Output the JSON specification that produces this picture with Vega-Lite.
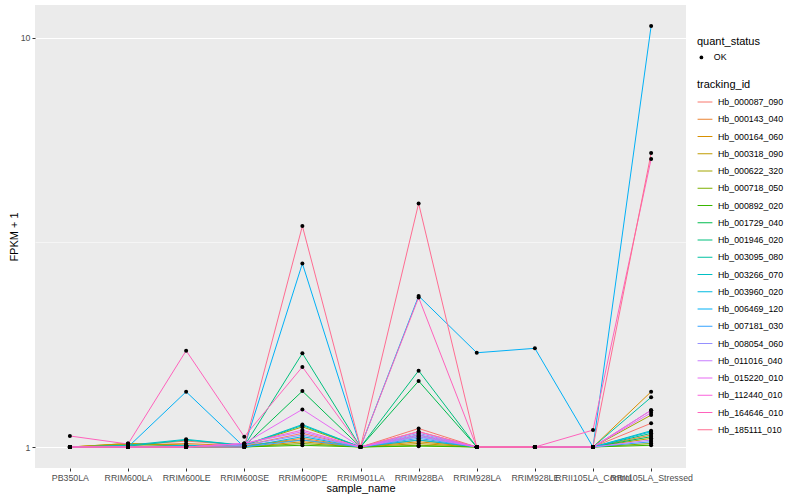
{
  "$schema": "https://vega.github.io/schema/vega-lite/v6.json",
  "width": 651,
  "height": 463,
  "autosize": {"type": "none"},
  "padding": {"left": 35, "top": 5, "right": 114, "bottom": 32},
  "background": "white",
  "config": {
    "view": {"fill": "#EBEBEB", "stroke": null},
    "font": "Liberation Sans",
    "axis": {
      "domain": false,
      "gridColor": "white",
      "gridWidth": 1.07,
      "tickColor": "#333333",
      "tickSize": 3,
      "tickWidth": 1,
      "labelColor": "#4D4D4D",
      "labelFontSize": 8.8,
      "titleFontSize": 11,
      "titleFontWeight": "normal",
      "titleColor": "black",
      "labelPadding": 2
    },
    "legend": {
      "titleFontSize": 11,
      "titleFontWeight": "normal",
      "labelFontSize": 8.8,
      "labelColor": "black",
      "titleColor": "black"
    }
  },
  "data": {"values": [
    {"sample_name":"PB350LA","tracking_id":"Hb_000087_090","fpkm1":1,"quant_status":"OK"},
    {"sample_name":"RRIM600LA","tracking_id":"Hb_000087_090","fpkm1":1.01,"quant_status":"OK"},
    {"sample_name":"RRIM600LE","tracking_id":"Hb_000087_090","fpkm1":1.034,"quant_status":"OK"},
    {"sample_name":"RRIM600SE","tracking_id":"Hb_000087_090","fpkm1":1.01,"quant_status":"OK"},
    {"sample_name":"RRIM600PE","tracking_id":"Hb_000087_090","fpkm1":1.08,"quant_status":"OK"},
    {"sample_name":"RRIM901LA","tracking_id":"Hb_000087_090","fpkm1":1,"quant_status":"OK"},
    {"sample_name":"RRIM928BA","tracking_id":"Hb_000087_090","fpkm1":1.11,"quant_status":"OK"},
    {"sample_name":"RRIM928LA","tracking_id":"Hb_000087_090","fpkm1":1,"quant_status":"OK"},
    {"sample_name":"RRIM928LE","tracking_id":"Hb_000087_090","fpkm1":1,"quant_status":"OK"},
    {"sample_name":"RRII105LA_Control","tracking_id":"Hb_000087_090","fpkm1":1,"quant_status":"OK"},
    {"sample_name":"RRII105LA_Stressed","tracking_id":"Hb_000087_090","fpkm1":1.143,"quant_status":"OK"},

    {"sample_name":"PB350LA","tracking_id":"Hb_000143_040","fpkm1":1,"quant_status":"OK"},
    {"sample_name":"RRIM600LA","tracking_id":"Hb_000143_040","fpkm1":1.01,"quant_status":"OK"},
    {"sample_name":"RRIM600LE","tracking_id":"Hb_000143_040","fpkm1":1.02,"quant_status":"OK"},
    {"sample_name":"RRIM600SE","tracking_id":"Hb_000143_040","fpkm1":1.005,"quant_status":"OK"},
    {"sample_name":"RRIM600PE","tracking_id":"Hb_000143_040","fpkm1":1.05,"quant_status":"OK"},
    {"sample_name":"RRIM901LA","tracking_id":"Hb_000143_040","fpkm1":1,"quant_status":"OK"},
    {"sample_name":"RRIM928BA","tracking_id":"Hb_000143_040","fpkm1":1.09,"quant_status":"OK"},
    {"sample_name":"RRIM928LA","tracking_id":"Hb_000143_040","fpkm1":1,"quant_status":"OK"},
    {"sample_name":"RRIM928LE","tracking_id":"Hb_000143_040","fpkm1":1,"quant_status":"OK"},
    {"sample_name":"RRII105LA_Control","tracking_id":"Hb_000143_040","fpkm1":1,"quant_status":"OK"},
    {"sample_name":"RRII105LA_Stressed","tracking_id":"Hb_000143_040","fpkm1":1.07,"quant_status":"OK"},

    {"sample_name":"PB350LA","tracking_id":"Hb_000164_060","fpkm1":1,"quant_status":"OK"},
    {"sample_name":"RRIM600LA","tracking_id":"Hb_000164_060","fpkm1":1.02,"quant_status":"OK"},
    {"sample_name":"RRIM600LE","tracking_id":"Hb_000164_060","fpkm1":1.01,"quant_status":"OK"},
    {"sample_name":"RRIM600SE","tracking_id":"Hb_000164_060","fpkm1":1,"quant_status":"OK"},
    {"sample_name":"RRIM600PE","tracking_id":"Hb_000164_060","fpkm1":1.03,"quant_status":"OK"},
    {"sample_name":"RRIM901LA","tracking_id":"Hb_000164_060","fpkm1":1,"quant_status":"OK"},
    {"sample_name":"RRIM928BA","tracking_id":"Hb_000164_060","fpkm1":1.03,"quant_status":"OK"},
    {"sample_name":"RRIM928LA","tracking_id":"Hb_000164_060","fpkm1":1,"quant_status":"OK"},
    {"sample_name":"RRIM928LE","tracking_id":"Hb_000164_060","fpkm1":1,"quant_status":"OK"},
    {"sample_name":"RRII105LA_Control","tracking_id":"Hb_000164_060","fpkm1":1,"quant_status":"OK"},
    {"sample_name":"RRII105LA_Stressed","tracking_id":"Hb_000164_060","fpkm1":1.365,"quant_status":"OK"},

    {"sample_name":"PB350LA","tracking_id":"Hb_000318_090","fpkm1":1,"quant_status":"OK"},
    {"sample_name":"RRIM600LA","tracking_id":"Hb_000318_090","fpkm1":1.02,"quant_status":"OK"},
    {"sample_name":"RRIM600LE","tracking_id":"Hb_000318_090","fpkm1":1.01,"quant_status":"OK"},
    {"sample_name":"RRIM600SE","tracking_id":"Hb_000318_090","fpkm1":1.01,"quant_status":"OK"},
    {"sample_name":"RRIM600PE","tracking_id":"Hb_000318_090","fpkm1":1.04,"quant_status":"OK"},
    {"sample_name":"RRIM901LA","tracking_id":"Hb_000318_090","fpkm1":1,"quant_status":"OK"},
    {"sample_name":"RRIM928BA","tracking_id":"Hb_000318_090","fpkm1":1.02,"quant_status":"OK"},
    {"sample_name":"RRIM928LA","tracking_id":"Hb_000318_090","fpkm1":1,"quant_status":"OK"},
    {"sample_name":"RRIM928LE","tracking_id":"Hb_000318_090","fpkm1":1,"quant_status":"OK"},
    {"sample_name":"RRII105LA_Control","tracking_id":"Hb_000318_090","fpkm1":1,"quant_status":"OK"},
    {"sample_name":"RRII105LA_Stressed","tracking_id":"Hb_000318_090","fpkm1":1.05,"quant_status":"OK"},

    {"sample_name":"PB350LA","tracking_id":"Hb_000622_320","fpkm1":1,"quant_status":"OK"},
    {"sample_name":"RRIM600LA","tracking_id":"Hb_000622_320","fpkm1":1.015,"quant_status":"OK"},
    {"sample_name":"RRIM600LE","tracking_id":"Hb_000622_320","fpkm1":1.005,"quant_status":"OK"},
    {"sample_name":"RRIM600SE","tracking_id":"Hb_000622_320","fpkm1":1.01,"quant_status":"OK"},
    {"sample_name":"RRIM600PE","tracking_id":"Hb_000622_320","fpkm1":1.12,"quant_status":"OK"},
    {"sample_name":"RRIM901LA","tracking_id":"Hb_000622_320","fpkm1":1,"quant_status":"OK"},
    {"sample_name":"RRIM928BA","tracking_id":"Hb_000622_320","fpkm1":1.04,"quant_status":"OK"},
    {"sample_name":"RRIM928LA","tracking_id":"Hb_000622_320","fpkm1":1,"quant_status":"OK"},
    {"sample_name":"RRIM928LE","tracking_id":"Hb_000622_320","fpkm1":1,"quant_status":"OK"},
    {"sample_name":"RRII105LA_Control","tracking_id":"Hb_000622_320","fpkm1":1,"quant_status":"OK"},
    {"sample_name":"RRII105LA_Stressed","tracking_id":"Hb_000622_320","fpkm1":1.197,"quant_status":"OK"},

    {"sample_name":"PB350LA","tracking_id":"Hb_000718_050","fpkm1":1,"quant_status":"OK"},
    {"sample_name":"RRIM600LA","tracking_id":"Hb_000718_050","fpkm1":1.005,"quant_status":"OK"},
    {"sample_name":"RRIM600LE","tracking_id":"Hb_000718_050","fpkm1":1,"quant_status":"OK"},
    {"sample_name":"RRIM600SE","tracking_id":"Hb_000718_050","fpkm1":1,"quant_status":"OK"},
    {"sample_name":"RRIM600PE","tracking_id":"Hb_000718_050","fpkm1":1.02,"quant_status":"OK"},
    {"sample_name":"RRIM901LA","tracking_id":"Hb_000718_050","fpkm1":1,"quant_status":"OK"},
    {"sample_name":"RRIM928BA","tracking_id":"Hb_000718_050","fpkm1":1.01,"quant_status":"OK"},
    {"sample_name":"RRIM928LA","tracking_id":"Hb_000718_050","fpkm1":1,"quant_status":"OK"},
    {"sample_name":"RRIM928LE","tracking_id":"Hb_000718_050","fpkm1":1,"quant_status":"OK"},
    {"sample_name":"RRII105LA_Control","tracking_id":"Hb_000718_050","fpkm1":1,"quant_status":"OK"},
    {"sample_name":"RRII105LA_Stressed","tracking_id":"Hb_000718_050","fpkm1":1.02,"quant_status":"OK"},

    {"sample_name":"PB350LA","tracking_id":"Hb_000892_020","fpkm1":1,"quant_status":"OK"},
    {"sample_name":"RRIM600LA","tracking_id":"Hb_000892_020","fpkm1":1,"quant_status":"OK"},
    {"sample_name":"RRIM600LE","tracking_id":"Hb_000892_020","fpkm1":1,"quant_status":"OK"},
    {"sample_name":"RRIM600SE","tracking_id":"Hb_000892_020","fpkm1":1,"quant_status":"OK"},
    {"sample_name":"RRIM600PE","tracking_id":"Hb_000892_020","fpkm1":1.01,"quant_status":"OK"},
    {"sample_name":"RRIM901LA","tracking_id":"Hb_000892_020","fpkm1":1,"quant_status":"OK"},
    {"sample_name":"RRIM928BA","tracking_id":"Hb_000892_020","fpkm1":1.005,"quant_status":"OK"},
    {"sample_name":"RRIM928LA","tracking_id":"Hb_000892_020","fpkm1":1,"quant_status":"OK"},
    {"sample_name":"RRIM928LE","tracking_id":"Hb_000892_020","fpkm1":1,"quant_status":"OK"},
    {"sample_name":"RRII105LA_Control","tracking_id":"Hb_000892_020","fpkm1":1,"quant_status":"OK"},
    {"sample_name":"RRII105LA_Stressed","tracking_id":"Hb_000892_020","fpkm1":1.01,"quant_status":"OK"},

    {"sample_name":"PB350LA","tracking_id":"Hb_001729_040","fpkm1":1,"quant_status":"OK"},
    {"sample_name":"RRIM600LA","tracking_id":"Hb_001729_040","fpkm1":1,"quant_status":"OK"},
    {"sample_name":"RRIM600LE","tracking_id":"Hb_001729_040","fpkm1":1,"quant_status":"OK"},
    {"sample_name":"RRIM600SE","tracking_id":"Hb_001729_040","fpkm1":1.005,"quant_status":"OK"},
    {"sample_name":"RRIM600PE","tracking_id":"Hb_001729_040","fpkm1":1.37,"quant_status":"OK"},
    {"sample_name":"RRIM901LA","tracking_id":"Hb_001729_040","fpkm1":1,"quant_status":"OK"},
    {"sample_name":"RRIM928BA","tracking_id":"Hb_001729_040","fpkm1":1.45,"quant_status":"OK"},
    {"sample_name":"RRIM928LA","tracking_id":"Hb_001729_040","fpkm1":1,"quant_status":"OK"},
    {"sample_name":"RRIM928LE","tracking_id":"Hb_001729_040","fpkm1":1,"quant_status":"OK"},
    {"sample_name":"RRII105LA_Control","tracking_id":"Hb_001729_040","fpkm1":1,"quant_status":"OK"},
    {"sample_name":"RRII105LA_Stressed","tracking_id":"Hb_001729_040","fpkm1":1.06,"quant_status":"OK"},

    {"sample_name":"PB350LA","tracking_id":"Hb_001946_020","fpkm1":1,"quant_status":"OK"},
    {"sample_name":"RRIM600LA","tracking_id":"Hb_001946_020","fpkm1":1,"quant_status":"OK"},
    {"sample_name":"RRIM600LE","tracking_id":"Hb_001946_020","fpkm1":1.005,"quant_status":"OK"},
    {"sample_name":"RRIM600SE","tracking_id":"Hb_001946_020","fpkm1":1.005,"quant_status":"OK"},
    {"sample_name":"RRIM600PE","tracking_id":"Hb_001946_020","fpkm1":1.695,"quant_status":"OK"},
    {"sample_name":"RRIM901LA","tracking_id":"Hb_001946_020","fpkm1":1,"quant_status":"OK"},
    {"sample_name":"RRIM928BA","tracking_id":"Hb_001946_020","fpkm1":1.537,"quant_status":"OK"},
    {"sample_name":"RRIM928LA","tracking_id":"Hb_001946_020","fpkm1":1,"quant_status":"OK"},
    {"sample_name":"RRIM928LE","tracking_id":"Hb_001946_020","fpkm1":1,"quant_status":"OK"},
    {"sample_name":"RRII105LA_Control","tracking_id":"Hb_001946_020","fpkm1":1,"quant_status":"OK"},
    {"sample_name":"RRII105LA_Stressed","tracking_id":"Hb_001946_020","fpkm1":1.08,"quant_status":"OK"},

    {"sample_name":"PB350LA","tracking_id":"Hb_003095_080","fpkm1":1,"quant_status":"OK"},
    {"sample_name":"RRIM600LA","tracking_id":"Hb_003095_080","fpkm1":1.005,"quant_status":"OK"},
    {"sample_name":"RRIM600LE","tracking_id":"Hb_003095_080","fpkm1":1.04,"quant_status":"OK"},
    {"sample_name":"RRIM600SE","tracking_id":"Hb_003095_080","fpkm1":1.01,"quant_status":"OK"},
    {"sample_name":"RRIM600PE","tracking_id":"Hb_003095_080","fpkm1":1.129,"quant_status":"OK"},
    {"sample_name":"RRIM901LA","tracking_id":"Hb_003095_080","fpkm1":1,"quant_status":"OK"},
    {"sample_name":"RRIM928BA","tracking_id":"Hb_003095_080","fpkm1":1.07,"quant_status":"OK"},
    {"sample_name":"RRIM928LA","tracking_id":"Hb_003095_080","fpkm1":1,"quant_status":"OK"},
    {"sample_name":"RRIM928LE","tracking_id":"Hb_003095_080","fpkm1":1,"quant_status":"OK"},
    {"sample_name":"RRII105LA_Control","tracking_id":"Hb_003095_080","fpkm1":1,"quant_status":"OK"},
    {"sample_name":"RRII105LA_Stressed","tracking_id":"Hb_003095_080","fpkm1":1.323,"quant_status":"OK"},

    {"sample_name":"PB350LA","tracking_id":"Hb_003266_070","fpkm1":1,"quant_status":"OK"},
    {"sample_name":"RRIM600LA","tracking_id":"Hb_003266_070","fpkm1":1.01,"quant_status":"OK"},
    {"sample_name":"RRIM600LE","tracking_id":"Hb_003266_070","fpkm1":1.044,"quant_status":"OK"},
    {"sample_name":"RRIM600SE","tracking_id":"Hb_003266_070","fpkm1":1.01,"quant_status":"OK"},
    {"sample_name":"RRIM600PE","tracking_id":"Hb_003266_070","fpkm1":1.135,"quant_status":"OK"},
    {"sample_name":"RRIM901LA","tracking_id":"Hb_003266_070","fpkm1":1,"quant_status":"OK"},
    {"sample_name":"RRIM928BA","tracking_id":"Hb_003266_070","fpkm1":1.06,"quant_status":"OK"},
    {"sample_name":"RRIM928LA","tracking_id":"Hb_003266_070","fpkm1":1,"quant_status":"OK"},
    {"sample_name":"RRIM928LE","tracking_id":"Hb_003266_070","fpkm1":1,"quant_status":"OK"},
    {"sample_name":"RRII105LA_Control","tracking_id":"Hb_003266_070","fpkm1":1,"quant_status":"OK"},
    {"sample_name":"RRII105LA_Stressed","tracking_id":"Hb_003266_070","fpkm1":1.096,"quant_status":"OK"},

    {"sample_name":"PB350LA","tracking_id":"Hb_003960_020","fpkm1":1,"quant_status":"OK"},
    {"sample_name":"RRIM600LA","tracking_id":"Hb_003960_020","fpkm1":1,"quant_status":"OK"},
    {"sample_name":"RRIM600LE","tracking_id":"Hb_003960_020","fpkm1":1.01,"quant_status":"OK"},
    {"sample_name":"RRIM600SE","tracking_id":"Hb_003960_020","fpkm1":1,"quant_status":"OK"},
    {"sample_name":"RRIM600PE","tracking_id":"Hb_003960_020","fpkm1":1.06,"quant_status":"OK"},
    {"sample_name":"RRIM901LA","tracking_id":"Hb_003960_020","fpkm1":1,"quant_status":"OK"},
    {"sample_name":"RRIM928BA","tracking_id":"Hb_003960_020","fpkm1":1.04,"quant_status":"OK"},
    {"sample_name":"RRIM928LA","tracking_id":"Hb_003960_020","fpkm1":1,"quant_status":"OK"},
    {"sample_name":"RRIM928LE","tracking_id":"Hb_003960_020","fpkm1":1,"quant_status":"OK"},
    {"sample_name":"RRII105LA_Control","tracking_id":"Hb_003960_020","fpkm1":1,"quant_status":"OK"},
    {"sample_name":"RRII105LA_Stressed","tracking_id":"Hb_003960_020","fpkm1":1.09,"quant_status":"OK"},

    {"sample_name":"PB350LA","tracking_id":"Hb_006469_120","fpkm1":1,"quant_status":"OK"},
    {"sample_name":"RRIM600LA","tracking_id":"Hb_006469_120","fpkm1":1,"quant_status":"OK"},
    {"sample_name":"RRIM600LE","tracking_id":"Hb_006469_120","fpkm1":1.365,"quant_status":"OK"},
    {"sample_name":"RRIM600SE","tracking_id":"Hb_006469_120","fpkm1":1,"quant_status":"OK"},
    {"sample_name":"RRIM600PE","tracking_id":"Hb_006469_120","fpkm1":2.81,"quant_status":"OK"},
    {"sample_name":"RRIM901LA","tracking_id":"Hb_006469_120","fpkm1":1,"quant_status":"OK"},
    {"sample_name":"RRIM928BA","tracking_id":"Hb_006469_120","fpkm1":2.34,"quant_status":"OK"},
    {"sample_name":"RRIM928LA","tracking_id":"Hb_006469_120","fpkm1":1.7,"quant_status":"OK"},
    {"sample_name":"RRIM928LE","tracking_id":"Hb_006469_120","fpkm1":1.743,"quant_status":"OK"},
    {"sample_name":"RRII105LA_Control","tracking_id":"Hb_006469_120","fpkm1":1,"quant_status":"OK"},
    {"sample_name":"RRII105LA_Stressed","tracking_id":"Hb_006469_120","fpkm1":10.7,"quant_status":"OK"},

    {"sample_name":"PB350LA","tracking_id":"Hb_007181_030","fpkm1":1,"quant_status":"OK"},
    {"sample_name":"RRIM600LA","tracking_id":"Hb_007181_030","fpkm1":1,"quant_status":"OK"},
    {"sample_name":"RRIM600LE","tracking_id":"Hb_007181_030","fpkm1":1,"quant_status":"OK"},
    {"sample_name":"RRIM600SE","tracking_id":"Hb_007181_030","fpkm1":1,"quant_status":"OK"},
    {"sample_name":"RRIM600PE","tracking_id":"Hb_007181_030","fpkm1":1.04,"quant_status":"OK"},
    {"sample_name":"RRIM901LA","tracking_id":"Hb_007181_030","fpkm1":1,"quant_status":"OK"},
    {"sample_name":"RRIM928BA","tracking_id":"Hb_007181_030","fpkm1":1.05,"quant_status":"OK"},
    {"sample_name":"RRIM928LA","tracking_id":"Hb_007181_030","fpkm1":1,"quant_status":"OK"},
    {"sample_name":"RRIM928LE","tracking_id":"Hb_007181_030","fpkm1":1,"quant_status":"OK"},
    {"sample_name":"RRII105LA_Control","tracking_id":"Hb_007181_030","fpkm1":1,"quant_status":"OK"},
    {"sample_name":"RRII105LA_Stressed","tracking_id":"Hb_007181_030","fpkm1":1.03,"quant_status":"OK"},

    {"sample_name":"PB350LA","tracking_id":"Hb_008054_060","fpkm1":1,"quant_status":"OK"},
    {"sample_name":"RRIM600LA","tracking_id":"Hb_008054_060","fpkm1":1,"quant_status":"OK"},
    {"sample_name":"RRIM600LE","tracking_id":"Hb_008054_060","fpkm1":1,"quant_status":"OK"},
    {"sample_name":"RRIM600SE","tracking_id":"Hb_008054_060","fpkm1":1.01,"quant_status":"OK"},
    {"sample_name":"RRIM600PE","tracking_id":"Hb_008054_060","fpkm1":1.07,"quant_status":"OK"},
    {"sample_name":"RRIM901LA","tracking_id":"Hb_008054_060","fpkm1":1,"quant_status":"OK"},
    {"sample_name":"RRIM928BA","tracking_id":"Hb_008054_060","fpkm1":1.08,"quant_status":"OK"},
    {"sample_name":"RRIM928LA","tracking_id":"Hb_008054_060","fpkm1":1,"quant_status":"OK"},
    {"sample_name":"RRIM928LE","tracking_id":"Hb_008054_060","fpkm1":1,"quant_status":"OK"},
    {"sample_name":"RRII105LA_Control","tracking_id":"Hb_008054_060","fpkm1":1,"quant_status":"OK"},
    {"sample_name":"RRII105LA_Stressed","tracking_id":"Hb_008054_060","fpkm1":1.23,"quant_status":"OK"},

    {"sample_name":"PB350LA","tracking_id":"Hb_011016_040","fpkm1":1,"quant_status":"OK"},
    {"sample_name":"RRIM600LA","tracking_id":"Hb_011016_040","fpkm1":1,"quant_status":"OK"},
    {"sample_name":"RRIM600LE","tracking_id":"Hb_011016_040","fpkm1":1,"quant_status":"OK"},
    {"sample_name":"RRIM600SE","tracking_id":"Hb_011016_040","fpkm1":1.02,"quant_status":"OK"},
    {"sample_name":"RRIM600PE","tracking_id":"Hb_011016_040","fpkm1":1.09,"quant_status":"OK"},
    {"sample_name":"RRIM901LA","tracking_id":"Hb_011016_040","fpkm1":1,"quant_status":"OK"},
    {"sample_name":"RRIM928BA","tracking_id":"Hb_011016_040","fpkm1":1.06,"quant_status":"OK"},
    {"sample_name":"RRIM928LA","tracking_id":"Hb_011016_040","fpkm1":1,"quant_status":"OK"},
    {"sample_name":"RRIM928LE","tracking_id":"Hb_011016_040","fpkm1":1,"quant_status":"OK"},
    {"sample_name":"RRII105LA_Control","tracking_id":"Hb_011016_040","fpkm1":1,"quant_status":"OK"},
    {"sample_name":"RRII105LA_Stressed","tracking_id":"Hb_011016_040","fpkm1":1.04,"quant_status":"OK"},

    {"sample_name":"PB350LA","tracking_id":"Hb_015220_010","fpkm1":1,"quant_status":"OK"},
    {"sample_name":"RRIM600LA","tracking_id":"Hb_015220_010","fpkm1":1,"quant_status":"OK"},
    {"sample_name":"RRIM600LE","tracking_id":"Hb_015220_010","fpkm1":1,"quant_status":"OK"},
    {"sample_name":"RRIM600SE","tracking_id":"Hb_015220_010","fpkm1":1.02,"quant_status":"OK"},
    {"sample_name":"RRIM600PE","tracking_id":"Hb_015220_010","fpkm1":1.236,"quant_status":"OK"},
    {"sample_name":"RRIM901LA","tracking_id":"Hb_015220_010","fpkm1":1,"quant_status":"OK"},
    {"sample_name":"RRIM928BA","tracking_id":"Hb_015220_010","fpkm1":1.07,"quant_status":"OK"},
    {"sample_name":"RRIM928LA","tracking_id":"Hb_015220_010","fpkm1":1,"quant_status":"OK"},
    {"sample_name":"RRIM928LE","tracking_id":"Hb_015220_010","fpkm1":1,"quant_status":"OK"},
    {"sample_name":"RRII105LA_Control","tracking_id":"Hb_015220_010","fpkm1":1,"quant_status":"OK"},
    {"sample_name":"RRII105LA_Stressed","tracking_id":"Hb_015220_010","fpkm1":1.213,"quant_status":"OK"},

    {"sample_name":"PB350LA","tracking_id":"Hb_112440_010","fpkm1":1,"quant_status":"OK"},
    {"sample_name":"RRIM600LA","tracking_id":"Hb_112440_010","fpkm1":1,"quant_status":"OK"},
    {"sample_name":"RRIM600LE","tracking_id":"Hb_112440_010","fpkm1":1,"quant_status":"OK"},
    {"sample_name":"RRIM600SE","tracking_id":"Hb_112440_010","fpkm1":1.02,"quant_status":"OK"},
    {"sample_name":"RRIM600PE","tracking_id":"Hb_112440_010","fpkm1":1.1,"quant_status":"OK"},
    {"sample_name":"RRIM901LA","tracking_id":"Hb_112440_010","fpkm1":1,"quant_status":"OK"},
    {"sample_name":"RRIM928BA","tracking_id":"Hb_112440_010","fpkm1":1.09,"quant_status":"OK"},
    {"sample_name":"RRIM928LA","tracking_id":"Hb_112440_010","fpkm1":1,"quant_status":"OK"},
    {"sample_name":"RRIM928LE","tracking_id":"Hb_112440_010","fpkm1":1,"quant_status":"OK"},
    {"sample_name":"RRII105LA_Control","tracking_id":"Hb_112440_010","fpkm1":1,"quant_status":"OK"},
    {"sample_name":"RRII105LA_Stressed","tracking_id":"Hb_112440_010","fpkm1":1.23,"quant_status":"OK"},

    {"sample_name":"PB350LA","tracking_id":"Hb_164646_010","fpkm1":1.064,"quant_status":"OK"},
    {"sample_name":"RRIM600LA","tracking_id":"Hb_164646_010","fpkm1":1.017,"quant_status":"OK"},
    {"sample_name":"RRIM600LE","tracking_id":"Hb_164646_010","fpkm1":1.72,"quant_status":"OK"},
    {"sample_name":"RRIM600SE","tracking_id":"Hb_164646_010","fpkm1":1.06,"quant_status":"OK"},
    {"sample_name":"RRIM600PE","tracking_id":"Hb_164646_010","fpkm1":1.57,"quant_status":"OK"},
    {"sample_name":"RRIM901LA","tracking_id":"Hb_164646_010","fpkm1":1,"quant_status":"OK"},
    {"sample_name":"RRIM928BA","tracking_id":"Hb_164646_010","fpkm1":2.32,"quant_status":"OK"},
    {"sample_name":"RRIM928LA","tracking_id":"Hb_164646_010","fpkm1":1,"quant_status":"OK"},
    {"sample_name":"RRIM928LE","tracking_id":"Hb_164646_010","fpkm1":1,"quant_status":"OK"},
    {"sample_name":"RRII105LA_Control","tracking_id":"Hb_164646_010","fpkm1":1.1,"quant_status":"OK"},
    {"sample_name":"RRII105LA_Stressed","tracking_id":"Hb_164646_010","fpkm1":5.06,"quant_status":"OK"},

    {"sample_name":"PB350LA","tracking_id":"Hb_185111_010","fpkm1":1,"quant_status":"OK"},
    {"sample_name":"RRIM600LA","tracking_id":"Hb_185111_010","fpkm1":1,"quant_status":"OK"},
    {"sample_name":"RRIM600LE","tracking_id":"Hb_185111_010","fpkm1":1,"quant_status":"OK"},
    {"sample_name":"RRIM600SE","tracking_id":"Hb_185111_010","fpkm1":1,"quant_status":"OK"},
    {"sample_name":"RRIM600PE","tracking_id":"Hb_185111_010","fpkm1":3.47,"quant_status":"OK"},
    {"sample_name":"RRIM901LA","tracking_id":"Hb_185111_010","fpkm1":1,"quant_status":"OK"},
    {"sample_name":"RRIM928BA","tracking_id":"Hb_185111_010","fpkm1":3.94,"quant_status":"OK"},
    {"sample_name":"RRIM928LA","tracking_id":"Hb_185111_010","fpkm1":1,"quant_status":"OK"},
    {"sample_name":"RRIM928LE","tracking_id":"Hb_185111_010","fpkm1":1,"quant_status":"OK"},
    {"sample_name":"RRII105LA_Control","tracking_id":"Hb_185111_010","fpkm1":1,"quant_status":"OK"},
    {"sample_name":"RRII105LA_Stressed","tracking_id":"Hb_185111_010","fpkm1":5.23,"quant_status":"OK"}
  ]},
  "encoding": {
    "x": {
      "field": "sample_name",
      "type": "nominal",
      "sort": ["PB350LA","RRIM600LA","RRIM600LE","RRIM600SE","RRIM600PE","RRIM901LA","RRIM928BA","RRIM928LA","RRIM928LE","RRII105LA_Control","RRII105LA_Stressed"],
      "scale": {"type": "point", "padding": 0.6},
      "axis": {"labelAngle": 0, "labelOverlap": false, "labelLimit": 0, "title": "sample_name", "titlePadding": 1}
    },
    "y": {
      "field": "fpkm1",
      "type": "quantitative",
      "scale": {"type": "log", "domain": [0.8886, 12.04], "nice": false, "zero": false},
      "axis": {
        "title": "FPKM + 1",
        "values": [1, 3.1623, 10],
        "labelExpr": "datum.value == 1 || datum.value == 10 ? datum.label : ''",
        "format": "~g",
        "gridWidth": {"condition": {"test": "datum.value > 3 && datum.value < 4", "value": 0.53}, "value": 1.07},
        "tickOpacity": {"condition": {"test": "datum.value > 3 && datum.value < 4", "value": 0}, "value": 1},
        "titlePadding": 1
      }
    }
  },
  "layer": [
    {
      "mark": {"type": "line", "strokeWidth": 1},
      "encoding": {
        "color": {
          "field": "tracking_id",
          "type": "nominal",
          "scale": {"range": ["#F8766D","#EA8331","#D89000","#C09B00","#A3A500","#7CAE00","#39B600","#00BB4E","#00BF7D","#00C1A3","#00BFC4","#00BAE0","#00B0F6","#35A2FF","#9590FF","#C77CFF","#E76BF3","#FA62DB","#FF62BC","#FF6C91"]},
          "legend": {
            "title": "tracking_id",
            "orient": "none",
            "legendX": 662,
            "legendY": 74,
            "symbolType": "stroke",
            "symbolStrokeWidth": 1,
            "symbolSize": 220,
            "rowPadding": 4.25,
            "labelOffset": 5,
            "titlePadding": 4
          }
        }
      }
    },
    {
      "mark": {"type": "point", "filled": true, "size": 16, "opacity": 1},
      "encoding": {
        "shape": {
          "field": "quant_status",
          "type": "nominal",
          "scale": {"range": ["circle"]},
          "legend": {
            "title": "quant_status",
            "orient": "none",
            "legendX": 662,
            "legendY": 31,
            "symbolFillColor": "black",
            "symbolStrokeColor": "black",
            "symbolSize": 14,
            "labelOffset": 8,
            "titlePadding": 6
          }
        },
        "color": {"value": "black"}
      }
    }
  ]
}
